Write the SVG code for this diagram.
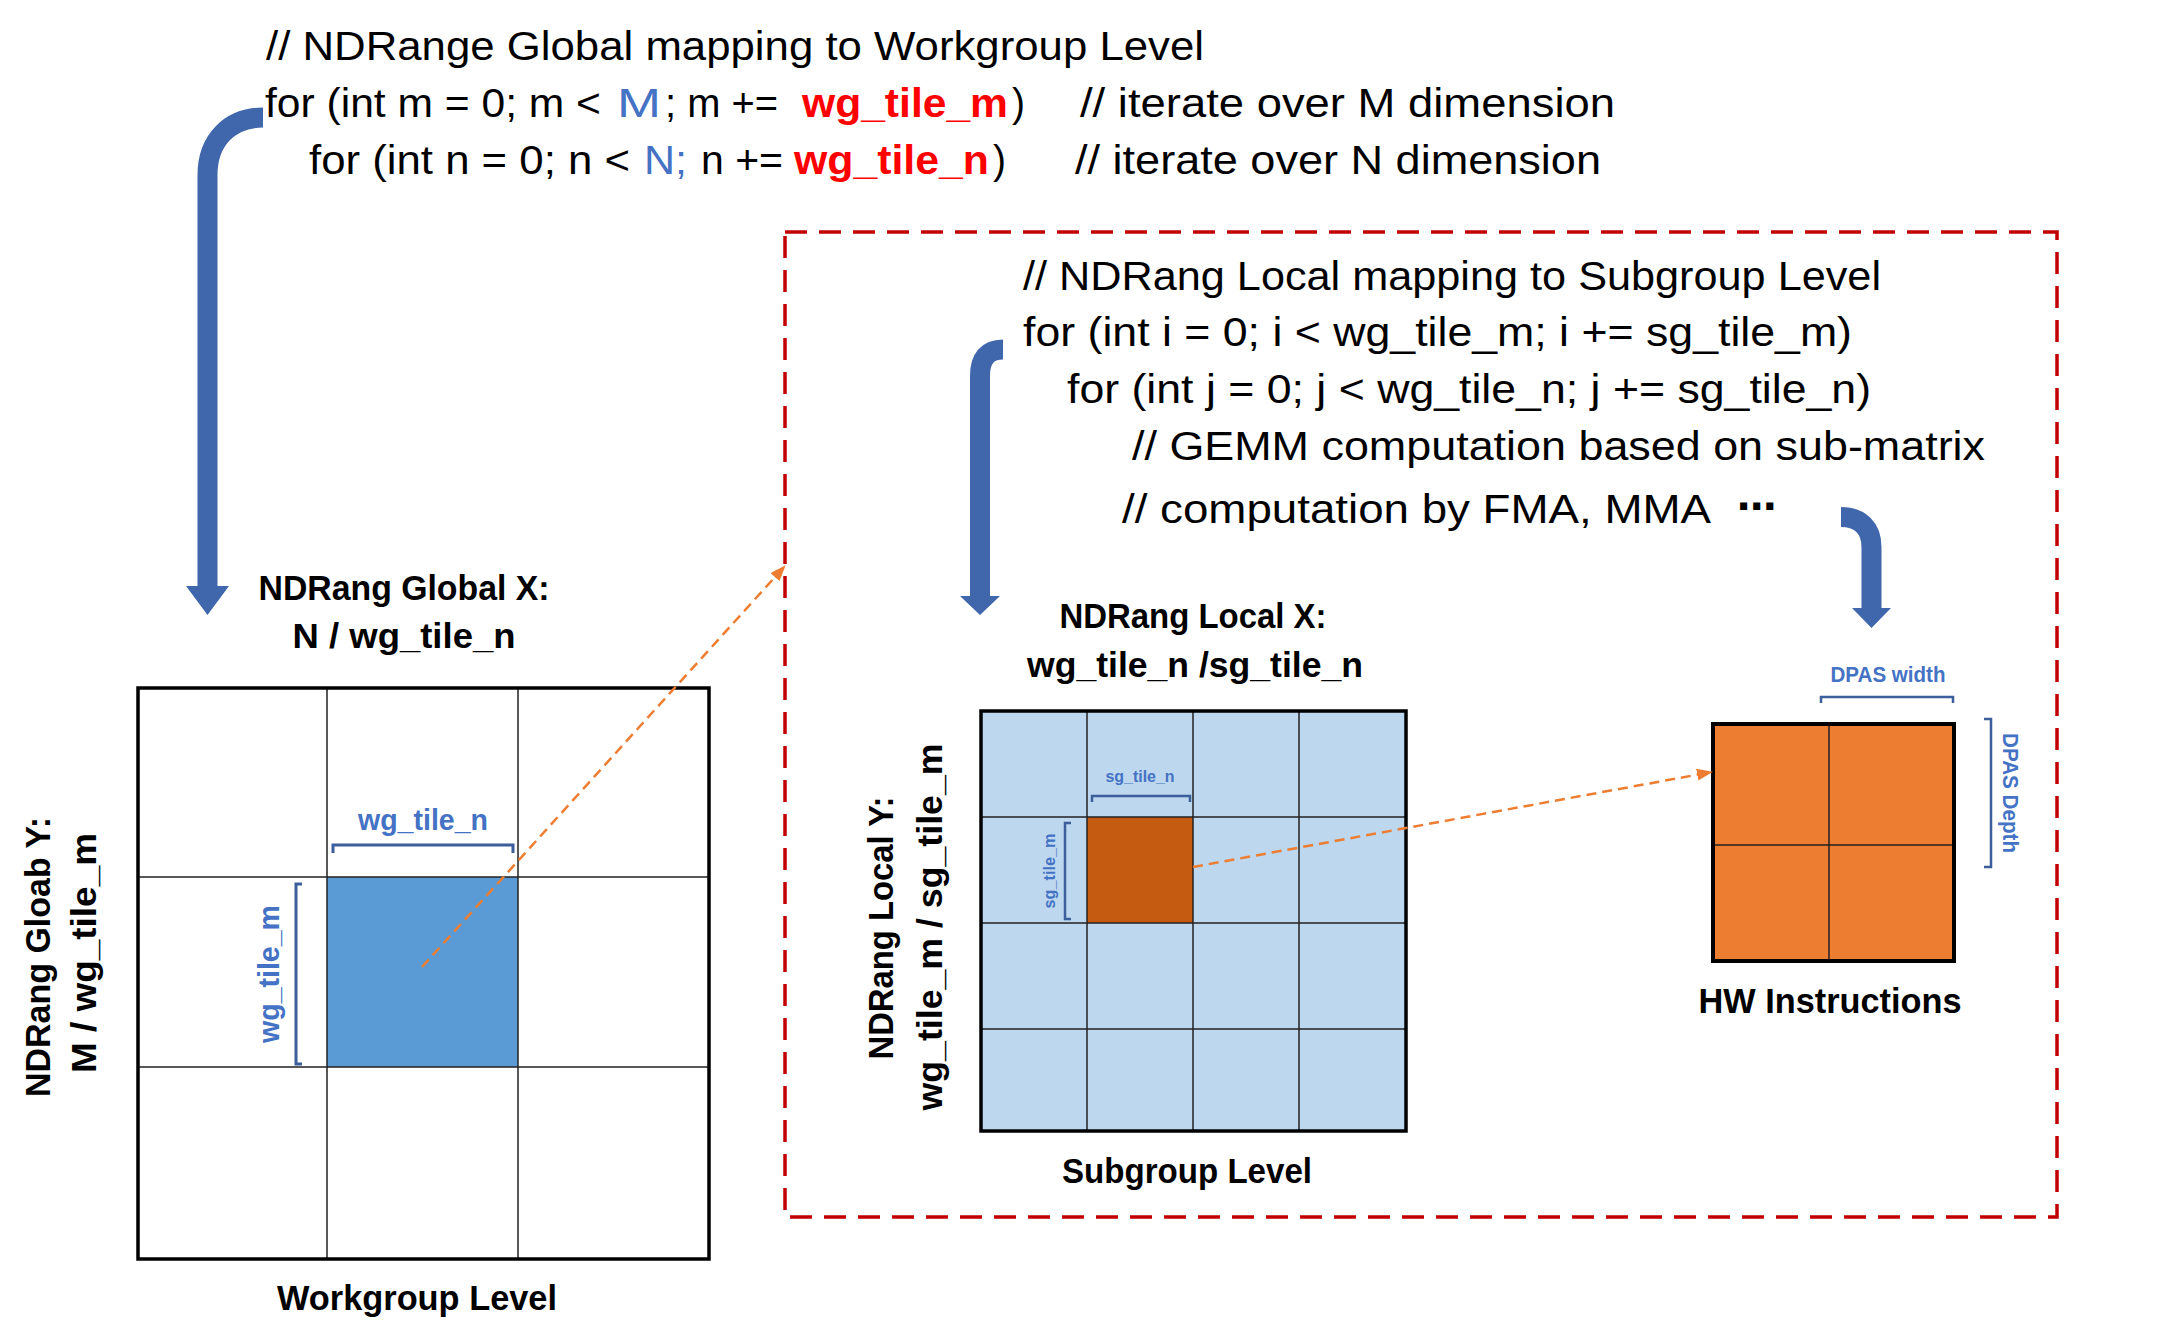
<svg xmlns="http://www.w3.org/2000/svg" width="2164" height="1341" viewBox="0 0 2164 1341">
<defs>
<style>
.code{font-family:"Liberation Sans",Arial,sans-serif;font-size:40px;fill:#000;white-space:pre}
.lbl{font-family:"Liberation Sans",Arial,sans-serif;font-size:35px;font-weight:bold;fill:#000}
.blue{fill:#4472C4}
.red{fill:#FF0000;font-weight:bold}
.dim{font-family:"Liberation Sans",Arial,sans-serif;font-weight:bold;fill:#4472C4}
.brk{fill:none;stroke:#3D5E9C;stroke-width:3}
.flow{fill:none;stroke:#4066AC;stroke-width:20}
.head{fill:#4066AC}
.map{fill:none;stroke:#ED7D31;stroke-width:2.5;stroke-dasharray:10 6}
.thin{fill:none;stroke:#222;stroke-width:1.5}
.frame{fill:none;stroke:#000;stroke-width:3.5}
</style>
<marker id="tri" viewBox="0 0 16 12" refX="15" refY="6" markerWidth="16" markerHeight="12" markerUnits="userSpaceOnUse" orient="auto"><path d="M0,0 L16,6 L0,12 z" fill="#ED7D31"/></marker>
</defs>
<rect width="2164" height="1341" fill="#fff"/>

<g id="local-region">
<rect x="785" y="232" width="1272" height="985" fill="none" stroke="#C00000" stroke-width="3.5" stroke-dasharray="22 12"/>
</g>

<g id="code-global" class="code">
<text x="266" y="60" textLength="938" lengthAdjust="spacingAndGlyphs">// NDRange Global mapping to Workgroup Level</text>
<text x="265" y="117" textLength="336" lengthAdjust="spacingAndGlyphs">for (int m = 0; m &lt;</text>
<text x="617" y="117" class="blue" textLength="44" lengthAdjust="spacingAndGlyphs">M</text>
<text x="665" y="117" textLength="113" lengthAdjust="spacingAndGlyphs">; m +=</text>
<text x="802" y="117" class="red" textLength="206" lengthAdjust="spacingAndGlyphs">wg_tile_m</text>
<text x="1012" y="117" textLength="13" lengthAdjust="spacingAndGlyphs">)</text>
<text x="1080" y="117" textLength="535" lengthAdjust="spacingAndGlyphs">// iterate over M dimension</text>
<text x="309" y="174" textLength="321" lengthAdjust="spacingAndGlyphs">for (int n = 0; n &lt;</text>
<text x="644" y="174" class="blue" textLength="43" lengthAdjust="spacingAndGlyphs">N;</text>
<text x="701" y="174" textLength="82" lengthAdjust="spacingAndGlyphs">n +=</text>
<text x="794" y="174" class="red" textLength="195" lengthAdjust="spacingAndGlyphs">wg_tile_n</text>
<text x="993" y="174" textLength="13" lengthAdjust="spacingAndGlyphs">)</text>
<text x="1075" y="174" textLength="526" lengthAdjust="spacingAndGlyphs">// iterate over N dimension</text>
</g>

<g id="code-local" class="code" xml:space="preserve">
<text x="1023" y="290" textLength="858" lengthAdjust="spacingAndGlyphs">// NDRang Local mapping to Subgroup Level</text>
<text x="1023" y="346" textLength="829" lengthAdjust="spacingAndGlyphs">for (int i = 0; i &lt; wg_tile_m;  i += sg_tile_m)</text>
<text x="1067" y="403" textLength="804" lengthAdjust="spacingAndGlyphs">for (int j = 0; j &lt; wg_tile_n;  j += sg_tile_n)</text>
<text x="1132" y="460" textLength="853" lengthAdjust="spacingAndGlyphs">// GEMM computation based on sub-matrix</text>
<text x="1122" y="523" textLength="589" lengthAdjust="spacingAndGlyphs">// computation by FMA, MMA</text>
<text x="1737" y="520" textLength="40" lengthAdjust="spacingAndGlyphs" style="font-family:'DejaVu Sans',sans-serif;font-weight:bold">⋯</text>
</g>

<g id="workgroup-grid">
<rect x="327" y="877" width="191" height="190" fill="#5B9BD5"/>
<path class="thin" d="M327,688 V1259 M518,688 V1259 M138,877 H709 M138,1067 H709"/>
<rect class="frame" x="138" y="688" width="571" height="571"/>
<path class="brk" d="M333,853 V845 H513 V853"/>
<text class="dim" x="423" y="830" font-size="30" text-anchor="middle" textLength="130" lengthAdjust="spacingAndGlyphs">wg_tile_n</text>
<path class="brk" d="M302,884 H296 V1064 H302"/>
<text class="dim" transform="translate(279,974) rotate(-90)" font-size="30" text-anchor="middle" textLength="138" lengthAdjust="spacingAndGlyphs">wg_tile_m</text>
<text class="lbl" x="404" y="600" text-anchor="middle" textLength="291" lengthAdjust="spacingAndGlyphs">NDRang Global X:</text>
<text class="lbl" x="404" y="648" text-anchor="middle" textLength="223" lengthAdjust="spacingAndGlyphs">N / wg_tile_n</text>
<text class="lbl" transform="translate(50,957) rotate(-90)" text-anchor="middle" textLength="280" lengthAdjust="spacingAndGlyphs">NDRang Gloab Y:</text>
<text class="lbl" transform="translate(96,953) rotate(-90)" text-anchor="middle" textLength="240" lengthAdjust="spacingAndGlyphs">M / wg_tile_m</text>
<text class="lbl" x="417" y="1310" text-anchor="middle" textLength="280" lengthAdjust="spacingAndGlyphs">Workgroup Level</text>
</g>

<g id="subgroup-grid">
<rect x="981" y="711" width="425" height="420" fill="#BDD7EE"/>
<rect x="1087" y="817" width="106" height="106" fill="#C55A11"/>
<path class="thin" d="M1087,711 V1131 M1193,711 V1131 M1299,711 V1131 M981,817 H1406 M981,923 H1406 M981,1029 H1406"/>
<rect class="frame" x="981" y="711" width="425" height="420"/>
<path class="brk" d="M1092,802 V796 H1190 V802" style="stroke-width:2.5"/>
<text class="dim" x="1140" y="782" font-size="17" text-anchor="middle" textLength="69" lengthAdjust="spacingAndGlyphs">sg_tile_n</text>
<path class="brk" d="M1071,823 H1065 V919 H1071" style="stroke-width:2.5"/>
<text class="dim" transform="translate(1055,871) rotate(-90)" font-size="17" text-anchor="middle" textLength="75" lengthAdjust="spacingAndGlyphs">sg_tile_m</text>
<text class="lbl" x="1193" y="628" text-anchor="middle" textLength="267" lengthAdjust="spacingAndGlyphs">NDRang Local X:</text>
<text class="lbl" x="1195" y="677" text-anchor="middle" textLength="336" lengthAdjust="spacingAndGlyphs">wg_tile_n /sg_tile_n</text>
<text class="lbl" transform="translate(893,928) rotate(-90)" text-anchor="middle" textLength="263" lengthAdjust="spacingAndGlyphs">NDRang Local Y:</text>
<text class="lbl" transform="translate(942,927) rotate(-90)" text-anchor="middle" textLength="367" lengthAdjust="spacingAndGlyphs">wg_tile_m / sg_tile_m</text>
<text class="lbl" x="1187" y="1183" text-anchor="middle" textLength="250" lengthAdjust="spacingAndGlyphs">Subgroup Level</text>
</g>

<g id="hw-instructions">
<rect x="1713" y="724" width="241" height="237" fill="#ED7D31"/>
<path class="thin" d="M1829,724 V961 M1713,845 H1954"/>
<rect x="1713" y="724" width="241" height="237" fill="none" stroke="#000" stroke-width="4"/>
<path class="brk" d="M1821,703 V697 H1953 V703" style="stroke-width:2.5"/>
<text class="dim" x="1888" y="682" font-size="22" text-anchor="middle" textLength="115" lengthAdjust="spacingAndGlyphs">DPAS width</text>
<path class="brk" d="M1984,719 H1991 V867 H1984" style="stroke-width:2.5"/>
<text class="dim" transform="translate(2003,793) rotate(90)" font-size="22" text-anchor="middle" textLength="120" lengthAdjust="spacingAndGlyphs">DPAS Depth</text>
<text class="lbl" x="1830" y="1013" text-anchor="middle" textLength="263" lengthAdjust="spacingAndGlyphs">HW Instructions</text>
</g>

<g id="connectors">
<path class="flow" d="M263,117.5 C230,117.5 207.5,140 207.5,175 L207.5,588"/>
<polygon class="head" points="186,586 229,586 207.5,615"/>
<path class="flow" d="M1003,349.5 Q980,349.5 980,376 L980,598"/>
<polygon class="head" points="960,596 1000,596 980,615"/>
<path class="flow" d="M1841,517 C1860,517 1871.5,528 1871.5,547 L1871.5,610"/>
<polygon class="head" points="1852,608 1891,608 1871.5,628"/>
<path class="map" d="M422,967 L785,566" marker-end="url(#tri)"/>
<path class="map" d="M1193,867 L1712,772" marker-end="url(#tri)"/>
</g>
</svg>
